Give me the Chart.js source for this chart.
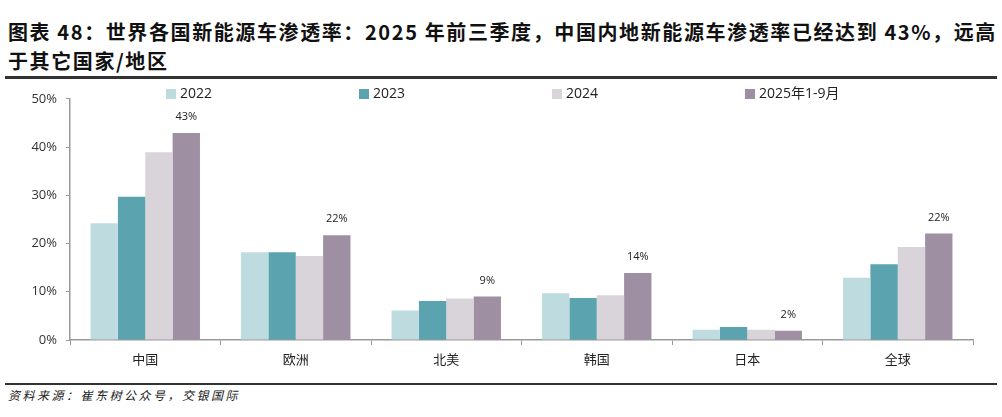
<!DOCTYPE html>
<html><head><meta charset="utf-8">
<script src="https://cdn.jsdelivr.net/npm/chart.js@4.4.1/dist/chart.umd.min.js"></script>
<style>
html,body{margin:0;padding:0;background:#fff;}
body{width:1002px;height:417px;position:relative;overflow:hidden;font-family:"Noto Sans CJK SC","Noto Sans",sans-serif;}
#title{position:absolute;left:8px;top:17px;width:994px;font-weight:bold;font-size:20px;line-height:29px;color:#111;letter-spacing:1.6px;white-space:nowrap;}
#topline{position:absolute;left:5px;top:76px;width:992px;height:3px;background:#333;}
#botline{position:absolute;left:5px;top:383px;width:992px;height:2px;background:#333;}
#source{position:absolute;left:8px;top:386px;font-size:12px;font-style:italic;color:#222;letter-spacing:2.5px;}
#legend{position:absolute;left:0;top:84px;width:1002px;height:18px;}
.li{position:absolute;top:0;font-size:14px;color:#222;font-family:"Open Sans","Noto Sans CJK SC",sans-serif;line-height:18px;white-space:nowrap;}
.li span{display:inline-block;width:10px;height:10px;margin-right:4px;vertical-align:-1px;}
#wrap{position:absolute;left:0;top:82px;width:1002px;height:290px;}
</style></head>
<body>
<div id="title">图表 48：世界各国新能源车渗透率：2025 年前三季度，中国内地新能源车渗透率已经达到 43%，远高<br>于其它国家/地区</div>
<div id="topline"></div>
<div id="wrap"><canvas id="c"></canvas></div>
<div id="legend"></div>
<div id="botline"></div>
<div id="source">资料来源：崔东树公众号，交银国际</div>
<script>
const categories = ["中国","欧洲","北美","韩国","日本","全球"];
const seriesNames = ["2022","2023","2024","2025年1-9月"];
const v2022 = [24.2, 18.2, 6.1, 9.7, 2.1, 12.9];
const v2023 = [29.7, 18.2, 8.1, 8.7, 2.7, 15.7];
const v2024 = [38.9, 17.4, 8.6, 9.3, 2.1, 19.3];
const v2025 = [42.9, 21.7, 9.0, 13.9, 1.9, 22.1];
const colors = ["#BEDCE0","#5BA3AE","#D9D3DA","#9E8FA2"];
const yTicks = [0,10,20,30,40,50];

const legendX = [166, 359, 552, 745];
const lg = document.getElementById('legend');
seriesNames.forEach((n,i)=>{
  const d=document.createElement('div');d.className='li';d.style.left=legendX[i]+'px';
  d.innerHTML='<span style="background:'+colors[i]+'"></span>'+n;lg.appendChild(d);
});

const labelPlugin = {
  id:'labels',
  afterDatasetsDraw(chart){
    const ctx=chart.ctx; const meta=chart.getDatasetMeta(3);
    ctx.save();ctx.font='11px "Open Sans","Noto Sans",sans-serif';ctx.fillStyle='#222';
    ctx.textAlign='center';ctx.textBaseline='middle';
    meta.data.forEach((b,i)=>{ctx.fillText(Math.round(v2025[i])+'%', b.x, b.y-16);});
    ctx.restore();
  }
};

const allSeries=[v2022,v2023,v2024,v2025];
new Chart(document.getElementById('c'),{
  type:'bar',
  data:{labels:categories,datasets:allSeries.map((d,i)=>({label:seriesNames[i],data:d,backgroundColor:colors[i],borderWidth:0,categoryPercentage:0.727,barPercentage:1}))},
  options:{
    responsive:true,maintainAspectRatio:false,animation:false,
    layout:{padding:{top:16,left:0,right:29,bottom:2}},
    plugins:{legend:{display:false},tooltip:{enabled:false}},
    scales:{
      x:{
        grid:{drawOnChartArea:false,drawTicks:true,tickLength:5,color:'#999',offset:true},
        border:{color:'#999',width:1.5},
        ticks:{color:'#222',font:{size:13,family:'"Noto Sans CJK SC",sans-serif'},padding:6},
        afterFit(s){s.height=30;}
      },
      y:{
        min:0,max:50,
        afterBuildTicks(s){s.ticks=yTicks.map(v=>({value:v}));},
        grid:{drawOnChartArea:false,drawTicks:true,tickLength:4,color:'#999'},
        border:{color:'#999',width:1.5},
        ticks:{color:'#333',font:{size:13,family:'"Open Sans","Noto Sans",sans-serif'},padding:9,callback:v=>v+'%'},
        afterFit(s){s.width=70;}
      }
    }
  },
  plugins:[labelPlugin]
});
</script>
</body></html>
